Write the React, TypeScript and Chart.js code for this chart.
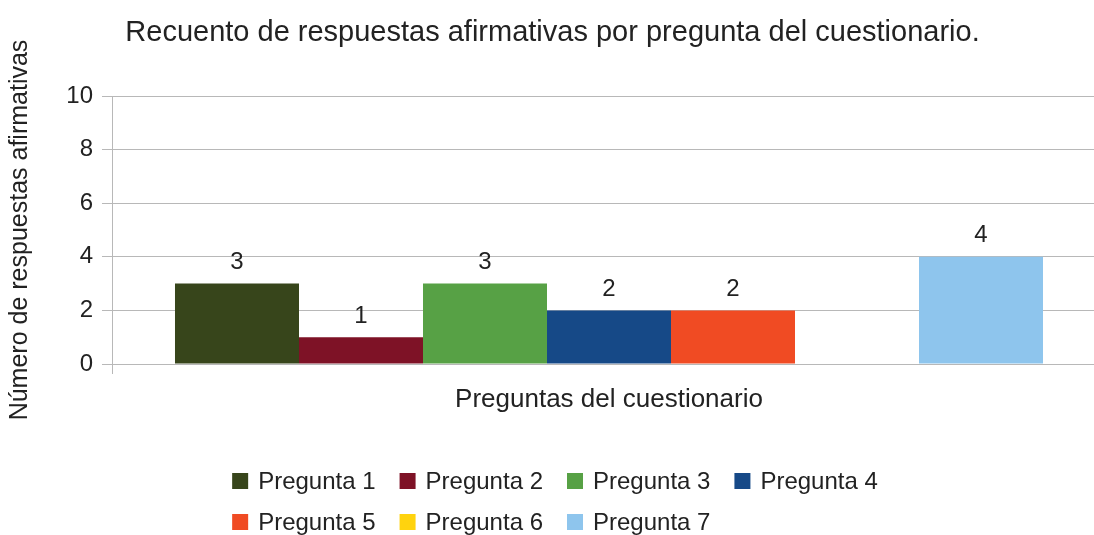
import React, { useEffect, useRef } from "react";
import { Chart, registerables } from "chart.js";

Chart.register(...registerables);

const chartTitle = "Recuento de respuestas afirmativas por pregunta del cuestionario.";
const xAxisTitle = "Preguntas del cuestionario";
const yAxisTitle = "Número de respuestas afirmativas";
const categories = [""];
const seriesNames = [
  "Pregunta 1",
  "Pregunta 2",
  "Pregunta 3",
  "Pregunta 4",
  "Pregunta 5",
  "Pregunta 6",
  "Pregunta 7",
];
const seriesValues = [3, 1, 3, 2, 2, 0, 4];
const seriesColors = [
  "#37451b",
  "#7e1226",
  "#57a145",
  "#164987",
  "#f04b23",
  "#ffd30e",
  "#8ec5ed",
];
const yTickMin = 0;
const yTickMax = 10;
const yTickStep = 2;

const FONT = "'Liberation Sans', Arial, sans-serif";
const TEXT = "#222222";
const GRID = "#b8b8b8";

const valueLabelPlugin = {
  id: "valueLabels",
  afterDatasetsDraw(chart: any) {
    const ctx = chart.ctx;
    ctx.save();
    ctx.font = `24px ${FONT}`;
    ctx.fillStyle = TEXT;
    ctx.textAlign = "center";
    ctx.textBaseline = "middle";
    chart.data.datasets.forEach((ds: any, i: number) => {
      const meta = chart.getDatasetMeta(i);
      meta.data.forEach((el: any, j: number) => {
        const v = ds.data[j];
        if (!v) return;
        ctx.fillText(String(v), el.x, el.y - 21);
      });
    });
    ctx.restore();
  },
};

const gridLegendPlugin = {
  id: "gridLegend",
  afterDraw(chart: any) {
    const ctx = chart.ctx;
    const datasets = chart.data.datasets;
    const perRow = 4;
    const box = 16;
    const gap = 10;
    const colGap = 24;
    ctx.save();
    ctx.font = `24px ${FONT}`;
    let maxText = 0;
    datasets.forEach((ds: any) => {
      maxText = Math.max(maxText, ctx.measureText(ds.label).width);
    });
    const colW = box + gap + maxText + colGap;
    const totalW = perRow * colW - colGap;
    const startX = chart.width / 2 - totalW / 2 - 2;
    const rowY = [481, 522];
    ctx.textAlign = "left";
    ctx.textBaseline = "middle";
    datasets.forEach((ds: any, i: number) => {
      const col = i % perRow;
      const row = Math.floor(i / perRow);
      const x = startX + col * colW;
      const y = rowY[row];
      ctx.fillStyle = ds.backgroundColor;
      ctx.fillRect(x, y - box / 2, box, box);
      ctx.fillStyle = TEXT;
      ctx.fillText(ds.label, x + box + gap, y + 1);
    });
    ctx.restore();
  },
};

export default function App() {
  const ref = useRef<HTMLCanvasElement>(null);

  useEffect(() => {
    if (!ref.current) return;
    const chart = new Chart(ref.current, {
      type: "bar",
      data: {
        labels: categories,
        datasets: seriesNames.map((name, i) => ({
          label: name,
          data: [seriesValues[i]],
          backgroundColor: seriesColors[i],
          borderWidth: 0,
          categoryPercentage: 0.875,
          barPercentage: 1,
        })),
      },
      options: {
        responsive: false,
        animation: false,
        layout: { padding: { left: 0, right: 9, top: 0, bottom: 115.4 } },
        plugins: {
          legend: { display: false },
          tooltip: { enabled: false },
          title: {
            display: true,
            text: chartTitle,
            color: TEXT,
            font: { family: FONT, size: 29, weight: "normal", lineHeight: 1.2 },
            padding: { top: 15.6, bottom: 45.6 },
          },
        },
        scales: {
          x: {
            offset: true,
            border: { display: true, color: GRID, width: 1 },
            grid: {
              display: true,
              drawOnChartArea: false,
              drawTicks: true,
              tickLength: 10,
              color: GRID,
              tickColor: GRID,
            },
            ticks: { display: false },
            title: {
              display: true,
              text: xAxisTitle,
              color: TEXT,
              font: { family: FONT, size: 26, lineHeight: 1.2 },
              padding: { top: 10.4, bottom: 4 },
            },
          },
          y: {
            min: yTickMin,
            max: yTickMax,
            border: { display: true, color: GRID, width: 1 },
            grid: {
              color: GRID,
              tickColor: GRID,
              tickLength: 11,
              drawTicks: true,
            },
            ticks: {
              stepSize: yTickStep,
              color: TEXT,
              padding: 9,
              font: { family: FONT, size: 24 },
            },
            title: {
              display: true,
              text: yAxisTitle,
              color: TEXT,
              font: { family: FONT, size: 25, lineHeight: 1.2 },
              padding: { top: 5, bottom: 22.3 },
            },
          },
        },
      },
      plugins: [valueLabelPlugin, gridLegendPlugin],
    });
    return () => chart.destroy();
  }, []);

  return (
    <div
      style={{
        position: "fixed",
        left: 0,
        top: 0,
        width: 1094,
        height: 535,
        overflow: "hidden",
        background: "#ffffff",
      }}
    >
      <canvas ref={ref} width={1114} height={535} style={{ display: "block" }} />
    </div>
  );
}
